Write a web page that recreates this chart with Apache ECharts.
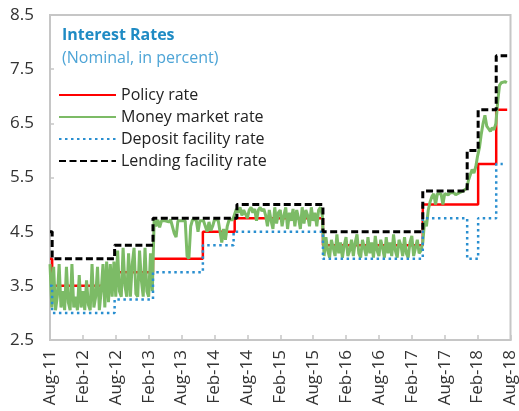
<!DOCTYPE html>
<html>
<head>
<meta charset="utf-8">
<script src="https://cdn.jsdelivr.net/npm/echarts@6/dist/echarts.min.js"></script>
<style>
  html, body { margin: 0; padding: 0; background: #fff; }
  #chart { width: 519px; height: 411px; }
</style>
</head>
<body>
<div id="chart"></div>
<script>
// x tick labels, every 6 months from Aug-11
var xTickLabels = ['Aug-11', 'Feb-12', 'Aug-12', 'Feb-13', 'Aug-13', 'Feb-14', 'Aug-14',
  'Feb-15', 'Aug-15', 'Feb-16', 'Aug-16', 'Feb-17', 'Aug-17', 'Feb-18', 'Aug-18'];

// step rates: date the rate took effect + rate (last entry = end of data)
var policyDates = ['2011-08-01', '2011-08-13', '2012-07-16', '2013-02-25', '2013-11-28',
  '2014-05-22', '2015-09-25', '2017-04-01', '2018-02-04', '2018-05-13', '2018-07-13'];
var policyRates = [4.0, 3.5, 3.75, 4.0, 4.5, 4.75, 4.25, 5.0, 5.75, 6.75, 6.75];

var depositDates = ['2011-08-01', '2011-08-13', '2012-07-25', '2013-02-25', '2013-11-28',
  '2014-05-16', '2015-09-25', '2017-04-01', '2017-12-04', '2018-02-04', '2018-05-13', '2018-06-19'];
var depositRates = [3.5, 3.0, 3.25, 3.75, 4.25, 4.5, 4.0, 4.75, 4.0, 4.75, 5.75, 5.75];

var lendingDates = ['2011-08-01', '2011-08-13', '2012-07-25', '2013-02-25', '2014-06-04',
  '2015-09-25', '2017-04-01', '2017-12-04', '2018-02-04', '2018-05-13', '2018-07-13'];
var lendingRates = [4.5, 4.0, 4.25, 4.75, 5.0, 4.5, 5.25, 6.0, 6.75, 7.75, 7.75];

// money market rate, three readings per month starting Aug-11
var mmRates = [
  // Aug-11 .. Jul-12
  3.9, 3.1, 3.85, 3.05, 3.3, 3.9, 3.1, 3.4, 3.05, 3.85, 3.2, 3.05,
  3.9, 3.1, 3.3, 3.05, 3.7, 3.1, 3.4, 3.05, 3.6, 3.15, 3.05, 3.9,
  3.1, 3.3, 3.85, 3.05, 3.4, 3.9, 3.1, 3.95, 3.2, 3.9, 3.3, 3.95,
  // Aug-12 .. Feb-13
  3.3, 4.15, 3.4, 3.3, 4.2, 3.5, 3.3, 4.1, 3.3, 3.9, 4.2, 3.35, 3.3, 4.15, 3.6, 3.3,
  4.2, 3.4, 3.3, 4.1, 3.4,
  // Mar-13 .. May-14
  4.72, 4.6, 4.72, 4.58, 4.7, 4.72, 4.7, 4.72, 4.68, 4.72, 4.7, 4.47, 4.4, 4.7, 4.72,
  4.7, 4.72, 4.7, 4.05, 4.0, 4.6, 4.72, 4.7, 4.72, 4.5, 4.7, 4.72, 4.7, 4.72, 4.5,
  4.68, 4.52, 4.6, 4.72, 4.7, 4.72, 4.7, 4.3, 4.55, 4.35, 4.6, 4.72, 4.7, 4.72, 4.72,
  // Jun-14 .. Sep-15
  4.92, 4.85, 4.95, 4.8, 4.9, 4.92, 4.75, 4.9, 4.95, 4.85, 4.92, 4.7, 4.9, 4.95, 4.88,
  4.92, 4.8,
  4.6, 4.9, 4.7, 4.55, 4.95, 4.65, 4.85, 4.9, 4.6, 4.8, 4.95, 4.55, 4.85, 4.7, 4.92,
  4.6, 4.9, 4.75, 4.55, 4.95, 4.65, 4.9, 4.8, 4.6, 4.95, 4.7, 4.85, 4.6, 4.9, 4.95, 4.8,
  // Oct-15 .. Mar-17
  4.05, 4.4, 4.15, 4.02, 4.35, 4.2, 4.05, 4.45, 4.1, 4.3, 4.02, 4.25, 4.4, 4.05, 4.15, 4.35, 4.05, 4.3,
  4.45, 4.1, 4.02, 4.35, 4.2, 4.05, 4.4, 4.1, 4.3, 4.02, 4.42, 4.15, 4.05, 4.35, 4.2, 4.02, 4.4, 4.1,
  4.3, 4.05, 4.45, 4.15, 4.02, 4.35, 4.25, 4.05, 4.4, 4.1, 4.02, 4.3, 4.42, 4.05, 4.2, 4.35, 4.1, 4.15,
  // Apr-17 .. Nov-17
  4.3, 4.7, 4.6, 4.9, 5.05, 5.15, 5.2, 5.0, 5.2, 5.22, 5.2, 5.0,
  5.2, 5.22, 5.18, 5.22, 5.2, 5.22, 5.18, 5.2, 5.22, 5.2, 5.25, 5.22,
  // Dec-17 .. Jul-18
  5.3, 5.45, 5.55, 5.65, 5.58, 5.7, 5.9, 6.05, 6.3, 6.5, 6.65, 6.45,
  6.4, 6.35, 6.42, 6.38, 6.5, 6.9, 7.2, 7.25, 7.22, 7.27, 7.25
];

function toMonth(s) {
  var p = s.split('-').map(Number);
  return (p[0] - 2011) * 12 + (p[1] - 8) + (p[2] - 1) / 30.5;
}
function pairs(dates, rates) {
  return dates.map(function (d, i) { return [toMonth(d), rates[i]]; });
}

var chart = echarts.init(document.getElementById('chart'));
var font = '"Open Sans", sans-serif';

chart.setOption({
  animation: false,
  textStyle: { fontFamily: font },
  title: {
    text: 'Interest Rates',
    subtext: '(Nominal, in percent)',
    left: 57,
    top: 22,
    itemGap: 7,
    textStyle: { fontFamily: font, fontSize: 16, fontWeight: 'bold', color: '#1f8bc4' },
    subtextStyle: { fontFamily: font, fontSize: 16, color: '#4da4d6' }
  },
  legend: {
    orient: 'vertical',
    left: 58,
    top: 87,
    itemWidth: 57,
    itemHeight: 14,
    itemGap: 6,
    itemTextGap: 5,
    padding: 0,
    itemStyle: { opacity: 0 },
    textStyle: { fontFamily: font, fontSize: 16, color: '#222', lineHeight: 14 },
    data: ['Policy rate', 'Money market rate', 'Deposit facility rate', 'Lending facility rate']
  },
  grid: {
    left: 50, right: 8, top: 15, bottom: 71,
    show: true, borderColor: '#c6c6c6', borderWidth: 2
  },
  xAxis: {
    type: 'value',
    min: 0, max: 84, interval: 6,
    splitLine: { show: false },
    axisLine: { lineStyle: { color: '#c6c6c6', width: 2 } },
    axisTick: { inside: true, length: 5, lineStyle: { color: '#c6c6c6', width: 1.5 } },
    axisLabel: {
      rotate: 90, margin: 10, fontSize: 17, color: '#333', fontFamily: font,
      formatter: function (v) { return xTickLabels[Math.round(v / 6)]; }
    }
  },
  yAxis: {
    type: 'value',
    min: 2.5, max: 8.5, interval: 1,
    splitLine: { show: false },
    axisLine: { show: true, lineStyle: { color: '#c6c6c6', width: 2 } },
    axisTick: { show: true, inside: true, length: 4, lineStyle: { color: '#c6c6c6', width: 1.5 } },
    axisLabel: {
      margin: 16, fontSize: 17, color: '#333', fontFamily: font,
      formatter: function (v) { return v.toFixed(1); }
    }
  },
  series: [
    {
      name: 'Policy rate', type: 'line', step: 'end', symbol: 'none',
      data: pairs(policyDates, policyRates),
      lineStyle: { color: '#ff0000', width: 2.5 },
      itemStyle: { color: '#ff0000' }
    },
    {
      name: 'Money market rate', type: 'line', symbol: 'none',
      data: mmRates.map(function (v, i) { return [i / 3, v]; }),
      lineStyle: { color: '#7cbb66', width: 3 },
      itemStyle: { color: '#7cbb66' }
    },
    {
      name: 'Deposit facility rate', type: 'line', step: 'end', symbol: 'none',
      data: pairs(depositDates, depositRates),
      lineStyle: { color: '#2a8fd0', width: 2.5, type: [2.5, 3.5] },
      itemStyle: { color: '#2a8fd0' }
    },
    {
      name: 'Lending facility rate', type: 'line', step: 'end', symbol: 'none',
      data: pairs(lendingDates, lendingRates),
      lineStyle: { color: '#000000', width: 3, type: [7, 3.5] },
      itemStyle: { color: '#000000' }
    }
  ]
});
</script>
</body>
</html>
